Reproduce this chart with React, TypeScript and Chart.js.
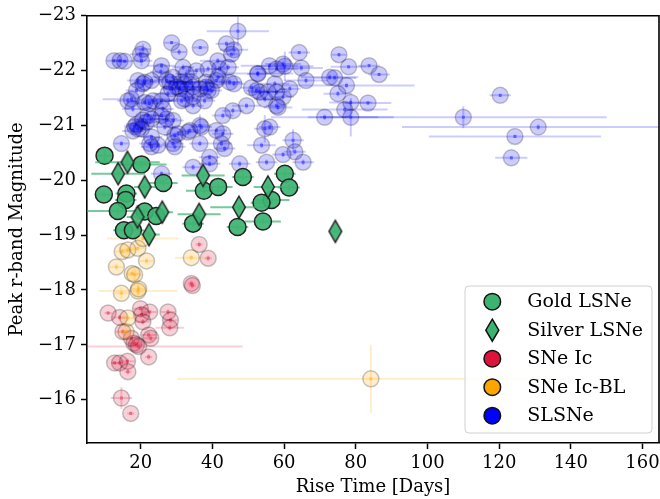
import { useEffect, useRef } from "react";
import { Chart, registerables } from "chart.js";
Chart.register(...registerables);

const FONT = "'DejaVu Serif', serif";

const xTicks = [20, 40, 60, 80, 100, 120, 140, 160];
const yTicks = [-23, -22, -21, -20, -19, -18, -17, -16];
const legendLabels = ["Gold LSNe", "Silver LSNe", "SNe Ic", "SNe Ic-BL", "SLSNe"];

// Gold LSNe
const goldRise = [9.9, 20.2, 9.7, 16.0, 15.8, 13.6, 15.3, 17.8, 26.3, 21.1, 24.3, 37.6, 41.6, 34.6, 48.5, 47.0, 60.2, 61.4, 56.5, 53.7, 54.1];
const goldMag = [-20.45, -20.29, -19.74, -19.76, -19.64, -19.44, -19.09, -19.09, -19.95, -19.43, -19.35, -19.81, -19.88, -19.21, -20.06, -19.15, -20.12, -19.87, -19.64, -19.59, -19.25];
const goldRiseErr = [2, 7, 2, 3, 3, 9, 3, 3, 4, 3, 3, 5, 4, 3, 3, 3, 3, 3, 5, 3, 5];
const goldMagErr = [0.1, 0.05, 0.05, 0.05, 0.05, 0.05, 0.05, 0.05, 0.05, 0.05, 0.05, 0.05, 0.05, 0.05, 0.05, 0.05, 0.05, 0.05, 0.05, 0.05, 0.05];

// Silver LSNe
const silverRise = [16.3, 13.7, 21.1, 19.1, 26.0, 22.3, 37.4, 36.3, 47.4, 55.5, 74.3];
const silverMag = [-20.33, -20.12, -19.88, -19.33, -19.42, -19.01, -20.09, -19.38, -19.51, -19.88, -19.07];
const silverRiseErr = [9, 7.5, 3, 3, 3, 3, 6, 6, 8, 4, 1];
const silverMagErr = [0.15, 0.05, 0.05, 0.05, 0.05, 0.05, 0.05, 0.05, 0.05, 0.05, 0.03];

// SNe Ic
const icRise = [36.3, 38.8, 34.1, 34.4, 10.9, 14.1, 19.9, 22.5, 20.2, 27.6, 28.3, 28.1, 20.6, 22.2, 22.8, 15.0, 17.4, 18.1, 18.8, 19.4, 22.2, 12.7, 14.1, 16.3, 16.4, 14.6, 17.2];
const icMag = [-18.83, -18.58, -18.12, -18.08, -17.58, -17.50, -17.66, -17.60, -17.55, -17.60, -17.45, -17.31, -17.42, -17.18, -17.12, -17.24, -17.12, -17.03, -17.00, -16.97, -16.78, -16.67, -16.67, -16.70, -16.51, -16.03, -15.75];
const icRiseErr = [1, 1, 1, 1, 1, 2, 2, 2, 2, 2, 2, 4, 2, 2, 2, 2, 2, 2, 2, 29, 1, 1, 2, 2, 1, 3, 1];
const icMagErr = [0.05, 0.05, 0.05, 0.05, 0.03, 0.05, 0.05, 0.03, 0.05, 0.05, 0.05, 0.05, 0.05, 0.05, 0.05, 0.05, 0.05, 0.05, 0.05, 0.05, 0.05, 0.03, 0.03, 0.05, 0.05, 0.2, 0.03];

// SNe Ic-BL
const icblRise = [14.8, 16.4, 19.2, 13.2, 21.6, 17.6, 18.3, 14.6, 19.2, 34.1, 16.4, 15.9, 20.6, 84.2, 19.4];
const icblMag = [-18.70, -18.73, -18.76, -18.42, -18.53, -18.30, -18.28, -17.94, -17.98, -18.59, -17.49, -17.24, -18.94, -16.38, -18.02];
const icblRiseErr = [2, 2, 2, 2, 2, 2, 2, 2, 11, 4.5, 2, 2, 10, 54, 2];
const icblMagErr = [0.05, 0.05, 0.05, 0.05, 0.05, 0.05, 0.1, 0.1, 0.1, 0.05, 0.05, 0.05, 0.05, 0.62, 0.1];

// SLSNe
const slsneRise = [
  12.5, 14.2, 15.5, 20.6, 19.9, 20.2, 28.6, 30.7, 36.6, 47.1,
  43.9, 46.0, 45.3, 41.5, 25.8, 25.6, 31.8, 35.5, 38.8, 42.0,
  44.4, 64.2, 75.3, 78.0, 83.7, 86.5, 55.9, 57.9, 60.2, 64.8,
  52.6, 66.1, 72.7, 74.1, 77.4, 75.0, 78.6, 83.4, 76.9, 78.6,
  71.3, 19.2, 21.1, 23.0, 27.2, 28.1, 29.0, 31.4, 32.3, 30.0,
  32.7, 34.1, 38.3, 38.3, 41.1, 41.6, 44.8, 46.0, 36.5, 38.8,
  34.6, 39.7, 30.9, 32.7, 28.6, 27.6, 20.6, 16.4, 17.4, 17.8,
  18.8, 21.1, 23.4, 22.4, 25.8, 26.2, 31.4, 32.3, 34.6, 34.6,
  37.8, 50.9, 53.2, 54.6, 57.4, 57.9, 59.7, 61.6, 58.3, 55.5,
  52.3, 52.7, 59.7, 49.5, 45.7, 42.9, 57.9, 18.3, 19.2, 20.2,
  17.8, 18.8, 21.6, 20.5, 22.0, 23.0, 25.8, 27.2, 26.7, 29.0,
  29.5, 30.4, 33.2, 36.5, 36.9, 41.1, 42.9, 23.0, 23.0, 22.5,
  24.8, 29.0, 29.5, 14.6, 36.5, 42.5, 43.4, 39.2, 39.2, 34.6,
  25.8, 47.6, 54.6, 53.7, 56.0, 62.5, 63.0, 59.7, 55.1, 65.3,
  110.0, 120.3, 130.9, 124.4, 123.4, 33.7,
];
const slsneMag = [
  -22.18, -22.18, -22.17, -22.39, -22.30, -22.18, -22.51, -22.34, -22.42, -22.72,
  -22.49, -22.38, -22.30, -22.18, -22.09, -21.98, -22.06, -22.00, -22.03, -22.03,
  -22.06, -22.33, -22.29, -22.07, -22.09, -21.93, -22.09, -22.03, -22.08, -22.05,
  -21.95, -21.82, -21.88, -21.87, -21.73, -21.58, -21.42, -21.41, -21.29, -21.15,
  -21.15, -21.82, -21.79, -21.82, -21.82, -21.79, -21.88, -21.79, -21.76, -21.70,
  -21.94, -21.79, -21.79, -21.70, -21.82, -21.88, -21.79, -21.76, -21.67, -21.64,
  -21.70, -21.64, -21.67, -21.64, -21.67, -21.58, -21.76, -21.45, -21.48, -21.30,
  -21.64, -21.42, -21.45, -21.40, -21.45, -21.30, -21.45, -21.48, -21.52, -21.36,
  -21.45, -21.69, -21.61, -21.48, -21.76, -21.61, -21.52, -21.67, -21.33, -21.61,
  -21.64, -21.94, -22.12, -21.36, -21.27, -21.18, -21.36, -20.98, -20.94, -20.94,
  -20.90, -21.02, -21.06, -21.10, -21.18, -21.12, -21.18, -21.12, -20.97, -21.09,
  -20.82, -20.85, -20.88, -21.00, -20.97, -20.91, -20.85, -20.79, -20.61, -20.67,
  -20.64, -20.67, -20.61, -20.67, -20.67, -20.67, -20.58, -20.42, -20.30, -20.24,
  -20.12, -20.30, -20.94, -20.64, -20.97, -20.73, -20.52, -20.47, -20.33, -20.33,
  -21.15, -21.55, -20.97, -20.80, -20.41, -20.91,
];
const slsneRiseErr = [
  2, 2, 2, 2, 3, 3, 2, 2, 2, 8.7,
  3, 4, 2, 5, 4, 3, 3, 3, 3, 2,
  3, 3, 2, 5, 3, 3, 8, 6, 8, 6,
  10, 6, 8, 6, 19, 4, 6, 6.5, 12, 12,
  15, 3, 3, 3, 4, 5, 6, 4, 3, 4,
  3, 6, 10, 4, 4, 3, 3, 3, 3, 2,
  3, 3, 3, 4, 3, 4, 3, 3, 8, 3,
  3, 4, 6, 4, 4, 3, 4, 8, 3, 3,
  3, 3, 3, 3, 4, 3, 3, 3, 4, 4,
  3, 3, 5, 4, 3, 3, 3, 3, 3, 3,
  3, 3, 3, 3, 3, 4, 3, 3, 3, 3,
  3, 3, 3, 3, 3, 3, 3, 3, 3, 3,
  3, 3, 3, 2, 3, 3, 3, 3, 3, 3,
  3, 3, 3, 4, 3, 3, 3, 3, 3, 3,
  40, 3, 38, 24, 4.5, 3,
];
const slsneMagErr = [
  0.03, 0.03, 0.03, 0.1, 0.1, 0.1, 0.03, 0.05, 0.03, 0.27,
  0.05, 0.1, 0.05, 0.05, 0.05, 0.05, 0.05, 0.05, 0.05, 0.05,
  0.05, 0.03, 0.03, 0.03, 0.03, 0.03, 0.05, 0.05, 0.27, 0.05,
  0.05, 0.05, 0.05, 0.05, 0.05, 0.05, 0.05, 0.03, 0.05, 0.35,
  0.05, 0.05, 0.05, 0.05, 0.05, 0.05, 0.05, 0.05, 0.05, 0.05,
  0.05, 0.05, 0.05, 0.05, 0.05, 0.05, 0.05, 0.05, 0.05, 0.05,
  0.05, 0.05, 0.05, 0.05, 0.05, 0.05, 0.05, 0.05, 0.05, 0.05,
  0.05, 0.05, 0.05, 0.05, 0.05, 0.05, 0.05, 0.05, 0.05, 0.05,
  0.05, 0.05, 0.05, 0.05, 0.05, 0.05, 0.05, 0.05, 0.05, 0.05,
  0.05, 0.05, 0.05, 0.05, 0.05, 0.05, 0.05, 0.05, 0.05, 0.05,
  0.05, 0.05, 0.05, 0.05, 0.05, 0.05, 0.05, 0.05, 0.05, 0.05,
  0.05, 0.05, 0.05, 0.2, 0.05, 0.05, 0.05, 0.05, 0.05, 0.05,
  0.05, 0.05, 0.05, 0.05, 0.05, 0.05, 0.05, 0.05, 0.05, 0.05,
  0.05, 0.05, 0.25, 0.05, 0.05, 0.2, 0.05, 0.05, 0.05, 0.05,
  0.2, 0.03, 0.05, 0.03, 0.03, 0.05,
];

const GREEN = "rgba(60,179,113,0.92)";

const pts = (xs: number[], ys: number[]) => xs.map((x, i) => ({ x, y: ys[i] }));

function makeDiamond(fill: string): HTMLCanvasElement {
  const c = document.createElement("canvas");
  c.width = 18;
  c.height = 28;
  const g = c.getContext("2d")!;
  g.beginPath();
  g.moveTo(9, 3);
  g.lineTo(15.3, 14);
  g.lineTo(9, 25);
  g.lineTo(2.7, 14);
  g.closePath();
  g.fillStyle = fill;
  g.fill();
  g.lineWidth = 1.5;
  g.strokeStyle = "#222";
  g.lineJoin = "miter";
  g.stroke();
  return c;
}

const errorBarPlugin = {
  id: "errbars",
  beforeDatasetDraw(chart: any, args: any) {
    const ds = chart.data.datasets[args.index];
    if (!ds.xerr) return;
    const { ctx, chartArea: a } = chart;
    const xs = chart.scales.x;
    const ys = chart.scales.y;
    ctx.save();
    ctx.beginPath();
    ctx.rect(a.left, a.top, a.right - a.left, a.bottom - a.top);
    ctx.clip();
    ctx.strokeStyle = ds.errColor;
    ctx.lineWidth = 2;
    ds.data.forEach((p: any, i: number) => {
      const cx = xs.getPixelForValue(p.x);
      const cy = ys.getPixelForValue(p.y);
      const x0 = xs.getPixelForValue(p.x - ds.xerr[i]);
      const x1 = xs.getPixelForValue(p.x + ds.xerr[i]);
      const y0 = ys.getPixelForValue(p.y - ds.yerr[i]);
      const y1 = ys.getPixelForValue(p.y + ds.yerr[i]);
      ctx.beginPath();
      ctx.moveTo(x0, cy);
      ctx.lineTo(x1, cy);
      ctx.moveTo(cx, y0);
      ctx.lineTo(cx, y1);
      ctx.stroke();
      if (ds.dotColor) {
        ctx.fillStyle = ds.dotColor;
        ctx.fillRect(cx - 1.5, cy - 1.5, 3, 3);
      }
    });
    ctx.restore();
  },
};

const framePlugin = {
  id: "frame",
  afterDatasetsDraw(chart: any) {
    const { ctx, chartArea: a } = chart;
    ctx.save();
    ctx.strokeStyle = "#000";
    ctx.lineWidth = 1.6;
    ctx.beginPath();
    ctx.moveTo(a.left, a.top);
    ctx.lineTo(a.right, a.top);
    ctx.lineTo(a.right, a.bottom);
    ctx.stroke();
    ctx.restore();
  },
};

const legendColors = ["#3CB371", "#3CB371", "#DC143C", "#FFA500", "#0000FF"];

const legendPlugin = {
  id: "mplLegend",
  afterDraw(chart: any) {
    const ctx = chart.ctx;
    ctx.save();
    const bx = 465, by = 286, bw = 187, bh = 147, r = 4;
    ctx.beginPath();
    ctx.moveTo(bx + r, by);
    ctx.arcTo(bx + bw, by, bx + bw, by + bh, r);
    ctx.arcTo(bx + bw, by + bh, bx, by + bh, r);
    ctx.arcTo(bx, by + bh, bx, by, r);
    ctx.arcTo(bx, by, bx + bw, by, r);
    ctx.closePath();
    ctx.fillStyle = "rgba(255,255,255,0.85)";
    ctx.fill();
    ctx.strokeStyle = "#d0d0d0";
    ctx.lineWidth = 1;
    ctx.stroke();
    legendLabels.forEach((t, i) => {
      const y = 301.7 + i * 28.5;
      const mx = 492.3;
      ctx.beginPath();
      if (i === 1) {
        ctx.moveTo(mx, y - 11);
        ctx.lineTo(mx + 6.5, y);
        ctx.lineTo(mx, y + 11);
        ctx.lineTo(mx - 6.5, y);
        ctx.closePath();
      } else {
        ctx.arc(mx, y, 8.3, 0, Math.PI * 2);
      }
      ctx.fillStyle = legendColors[i];
      ctx.fill();
      ctx.lineWidth = 1.5;
      ctx.strokeStyle = "#111";
      ctx.stroke();
      ctx.fillStyle = "#000";
      ctx.font = `19px ${FONT}`;
      ctx.textBaseline = "middle";
      ctx.textAlign = "left";
      ctx.fillText(t, 527.3, y + 0.5);
    });
    ctx.restore();
  },
};

const fmt = (v: number) => (v < 0 ? "\u2212" + Math.abs(v) : String(v));

export default function App() {
  const ref = useRef<HTMLCanvasElement>(null);
  useEffect(() => {
    const canvas = ref.current!;
    const diamond = makeDiamond(GREEN);
    const chart = new Chart(canvas, {
      type: "scatter",
      data: {
        datasets: [
          {
            label: legendLabels[0],
            data: pts(goldRise, goldMag),
            xerr: goldRiseErr,
            yerr: goldMagErr,
            errColor: "rgba(60,179,113,0.7)",
            pointStyle: "circle",
            pointRadius: 8.5,
            backgroundColor: GREEN,
            borderColor: "#222",
            borderWidth: 1.5,
            order: 1,
          } as any,
          {
            label: legendLabels[1],
            data: pts(silverRise, silverMag),
            xerr: silverRiseErr,
            yerr: silverMagErr,
            errColor: "rgba(60,179,113,0.7)",
            pointStyle: diamond,
            pointRadius: 10,
            order: 0,
          } as any,
          {
            label: legendLabels[2],
            data: pts(icRise, icMag),
            xerr: icRiseErr,
            yerr: icMagErr,
            errColor: "rgba(220,20,60,0.2)",
            dotColor: "rgba(220,20,60,0.45)",
            pointStyle: "circle",
            pointRadius: 8,
            backgroundColor: "rgba(220,20,60,0.2)",
            borderColor: "rgba(0,0,0,0.22)",
            borderWidth: 1.5,
            order: 3,
          } as any,
          {
            label: legendLabels[3],
            data: pts(icblRise, icblMag),
            xerr: icblRiseErr,
            yerr: icblMagErr,
            errColor: "rgba(255,165,0,0.2)",
            dotColor: "rgba(255,165,0,0.45)",
            pointStyle: "circle",
            pointRadius: 8,
            backgroundColor: "rgba(255,165,0,0.2)",
            borderColor: "rgba(0,0,0,0.22)",
            borderWidth: 1.5,
            order: 2,
          } as any,
          {
            label: legendLabels[4],
            data: pts(slsneRise, slsneMag),
            xerr: slsneRiseErr,
            yerr: slsneMagErr,
            errColor: "rgba(0,0,255,0.2)",
            dotColor: "rgba(0,0,255,0.45)",
            pointStyle: "circle",
            pointRadius: 8,
            backgroundColor: "rgba(0,0,255,0.2)",
            borderColor: "rgba(0,0,0,0.22)",
            borderWidth: 1.5,
            order: 4,
          } as any,
        ],
      },
      options: {
        responsive: false,
        animation: false,
        events: [],
        layout: { padding: { left: 0, top: 15, right: 10, bottom: 0 } },
        plugins: { legend: { display: false }, tooltip: { enabled: false } },
        scales: {
          x: {
            type: "linear",
            min: 5,
            max: 164.6,
            afterBuildTicks: (s: any) => {
              s.ticks = xTicks.map((v) => ({ value: v }));
            },
            afterFit: (s: any) => {
              s.height = 56;
            },
            ticks: {
              font: { family: FONT, size: 18 },
              color: "#000",
              padding: 4,
              maxRotation: 0,
              autoSkip: false,
              callback: (v: any) => fmt(Number(v)),
            },
            grid: { display: true, drawOnChartArea: false, drawTicks: true, tickLength: 6, tickWidth: 1.5, tickColor: "#000" },
            border: { display: true, color: "#000", width: 1.6 },
            title: { display: true, text: "Rise Time [Days]", font: { family: FONT, size: 18 }, color: "#000", padding: { top: 0, bottom: 1 } },
          },
          y: {
            type: "linear",
            reverse: true,
            min: -23,
            max: -15.21,
            afterBuildTicks: (s: any) => {
              s.ticks = yTicks.map((v) => ({ value: v }));
            },
            afterFit: (s: any) => {
              s.width = 87;
            },
            ticks: {
              font: { family: FONT, size: 18 },
              color: "#000",
              padding: 5,
              autoSkip: false,
              callback: (v: any) => fmt(Number(v)),
            },
            grid: { display: true, drawOnChartArea: false, drawTicks: true, tickLength: 6, tickWidth: 1.5, tickColor: "#000" },
            border: { display: true, color: "#000", width: 1.6 },
            title: { display: true, text: "Peak r-band Magnitude", font: { family: FONT, size: 18 }, color: "#000", padding: { top: 7, bottom: 0 } },
          },
        },
      } as any,
      plugins: [errorBarPlugin, framePlugin, legendPlugin],
    });
    return () => chart.destroy();
  }, []);
  return (
    <div style={{ position: "absolute", left: 0, top: 0, width: 660, height: 499, overflow: "hidden", background: "#fff" }}>
      <canvas ref={ref} width={670} height={499} style={{ display: "block" }} />
    </div>
  );
}
